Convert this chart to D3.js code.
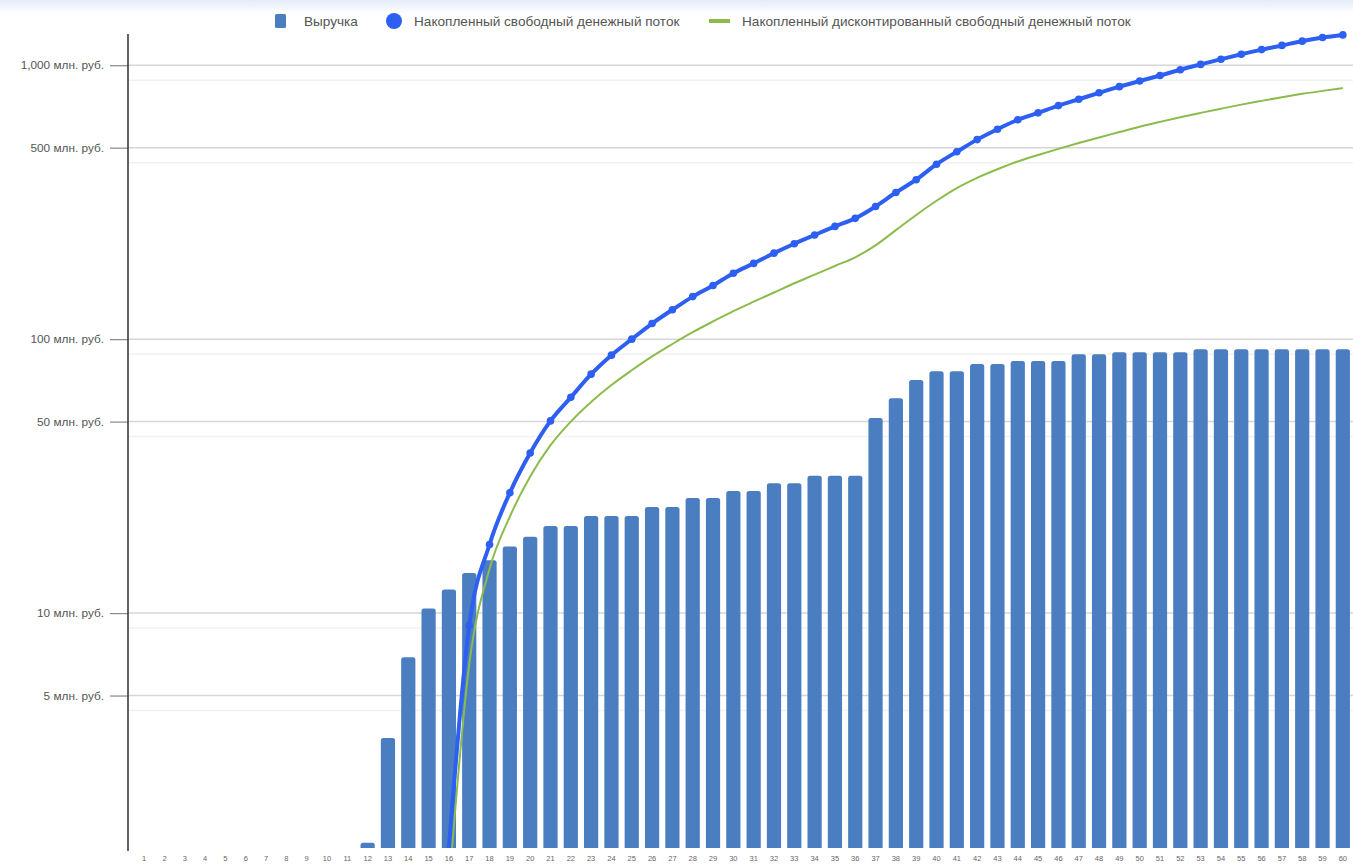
<!DOCTYPE html>
<html>
<head>
<meta charset="utf-8">
<script src="https://cdn.jsdelivr.net/npm/d3@7"></script>
<style>
  html, body { margin: 0; padding: 0; background: #fff; }
  svg { display: block; font-family: Arial, "Liberation Sans", sans-serif; }
</style>
</head>
<body>
<div id="chart"></div>
<script>
// Periods 1..60 on the x axis
const periods = [1, 2, 3, 4, 5, 6, 7, 8, 9, 10, 11, 12, 13, 14, 15, 16, 17, 18, 19, 20,
  21, 22, 23, 24, 25, 26, 27, 28, 29, 30, 31, 32, 33, 34, 35, 36, 37, 38, 39, 40,
  41, 42, 43, 44, 45, 46, 47, 48, 49, 50, 51, 52, 53, 54, 55, 56, 57, 58, 59, 60];

// Выручка, млн. руб. (null = nothing drawn)
const revenue = [null, null, null, null, null, null, null, null, null, null, null, 1.45,
  3.5, 6.9, 10.4, 12.2, 14.0, 15.6, 17.5, 19.0, 20.8, 20.8, 22.6, 22.6, 22.6, 24.4,
  24.4, 26.3, 26.3, 27.9, 27.9, 29.8, 29.8, 31.7, 31.7, 31.7, 51.5, 60.9, 70.9, 76.4,
  76.4, 81.2, 81.2, 83.3, 83.3, 83.3, 88.0, 88.0, 89.6, 89.6, 89.6, 89.6, 91.8, 91.8,
  91.8, 91.8, 91.8, 91.8, 91.8, 91.8];

// Накопленный свободный денежный поток (negative periods left out)
const cumFcf = [null, null, null, null, null, null, null, null, null, null, null, null,
  null, null, null, 1.39, 9.0, 17.8, 27.5, 38.4, 50.3, 61.3, 74.5, 87.4, 100, 114, 128,
  143, 157, 174, 189, 206, 223, 240, 258, 276, 305, 343, 382, 435, 483, 535, 584, 632,
  670, 712, 751, 793, 835, 876, 917, 963, 1007, 1051, 1096, 1140, 1181, 1224, 1262, 1290];

// Накопленный дисконтированный свободный денежный поток
const cumDcf = [null, null, null, null, null, null, null, null, null, null, null, null,
  null, null, null, 1.0, 6.5, 14.5, 22.5, 31.5, 41, 50, 59, 68, 77, 86.5, 96, 106, 116,
  126.5, 137, 148, 160, 172, 185, 199, 220, 250, 284, 320, 356, 388, 417, 445, 470, 495,
  520, 545, 570, 596, 621, 646, 670, 694, 718, 741, 764, 786, 806, 825];

const yTicks = [5, 10, 50, 100, 500, 1000];
const seriesNames = ['Выручка', 'Накопленный свободный денежный поток',
  'Накопленный дисконтированный свободный денежный поток'];

const svgWidth = 1353;
const svgHeight = 865;
const plot = { left: 128, right: 1353, top: 34, bottom: 848 };

const barColor = '#4a7ec0';
const fcfColor = '#2d5ff2';
const dcfColor = '#8cbb4c';

const svg = d3.select('#chart')
  .append('svg')
  .attr('width', svgWidth)
  .attr('height', svgHeight);

// faint tint along the top edge
const defs = svg.append('defs');
const grad = defs.append('linearGradient').attr('id', 'topTint')
  .attr('x1', 0).attr('y1', 0).attr('x2', 0).attr('y2', 1);
grad.append('stop').attr('offset', '0%').attr('stop-color', '#e3ecf9');
grad.append('stop').attr('offset', '100%').attr('stop-color', '#ffffff');
svg.append('rect').attr('x', 0).attr('y', 0).attr('width', svgWidth).attr('height', 14)
  .attr('fill', 'url(#topTint)');

defs.append('clipPath').attr('id', 'plotClip')
  .append('rect')
  .attr('x', plot.left + 1).attr('y', plot.top - 6)
  .attr('width', plot.right - plot.left).attr('height', plot.bottom - plot.top + 6);

const xScale = d3.scaleBand()
  .domain(periods)
  .range([plot.left + 6, plot.right])
  .paddingInner(0.3)
  .paddingOuter(0.15);

const yScale = d3.scaleLog()
  .domain([1.388, 1300])
  .range([plot.bottom, plot.top]);

const xc = i => xScale(periods[i]) + xScale.bandwidth() / 2;

// gridlines (with the soft echo seen below each line)
const grid = svg.append('g');
grid.selectAll('line.echo')
  .data(yTicks)
  .enter()
  .append('line')
  .attr('class', 'echo')
  .attr('x1', plot.left).attr('x2', plot.right)
  .attr('y1', d => yScale(d) + 15).attr('y2', d => yScale(d) + 15)
  .attr('stroke', '#f1f1f1')
  .attr('stroke-width', 1.5);
grid.selectAll('line.major')
  .data(yTicks)
  .enter()
  .append('line')
  .attr('class', 'major')
  .attr('x1', plot.left).attr('x2', plot.right)
  .attr('y1', d => yScale(d)).attr('y2', d => yScale(d))
  .attr('stroke', '#d6d6d6')
  .attr('stroke-width', 1.5);

// y axis
const yAxis = d3.axisLeft(yScale)
  .tickValues(yTicks)
  .tickSize(18)
  .tickPadding(6)
  .tickFormat(d => d3.format(',')(d) + ' млн. руб.');

const yAxisG = svg.append('g')
  .attr('transform', `translate(${plot.left},0)`)
  .call(yAxis);
yAxisG.select('.domain').remove();
yAxisG.selectAll('.tick line').attr('stroke', '#888').attr('stroke-width', 1.2);
yAxisG.selectAll('.tick text')
  .attr('fill', '#555')
  .style('font-size', '11.8px');

svg.append('line')
  .attr('x1', plot.left).attr('x2', plot.left)
  .attr('y1', plot.top).attr('y2', plot.bottom + 3)
  .attr('stroke', '#3a3a3a')
  .attr('stroke-width', 1.6);

// x axis labels
const xAxis = d3.axisBottom(xScale).tickSize(0).tickPadding(8);
const xAxisG = svg.append('g')
  .attr('transform', `translate(0,${plot.bottom})`)
  .call(xAxis);
xAxisG.select('.domain').remove();
xAxisG.selectAll('.tick text')
  .attr('fill', '#666')
  .style('font-size', '7.5px');

// bars
const bars = svg.append('g').attr('clip-path', 'url(#plotClip)');
bars.selectAll('rect')
  .data(revenue.map((v, i) => ({ i, v })).filter(d => d.v != null))
  .enter()
  .append('rect')
  .attr('x', d => xScale(periods[d.i]))
  .attr('y', d => yScale(d.v))
  .attr('width', xScale.bandwidth())
  .attr('height', d => plot.bottom + 3 - yScale(d.v))
  .attr('rx', 2.5)
  .attr('fill', barColor);

// lines
const lineGen = d3.line()
  .defined(d => d.v != null)
  .x(d => xc(d.i))
  .y(d => yScale(d.v))
  .curve(d3.curveMonotoneX);

const lines = svg.append('g').attr('clip-path', 'url(#plotClip)');
const fcfData = cumFcf.map((v, i) => ({ i, v }));
const dcfData = cumDcf.map((v, i) => ({ i, v }));

lines.append('path')
  .datum(fcfData)
  .attr('d', lineGen)
  .attr('fill', 'none')
  .attr('stroke', fcfColor)
  .attr('stroke-width', 4)
  .attr('stroke-linejoin', 'round');

lines.selectAll('circle')
  .data(fcfData.filter(d => d.v != null && d.i > 15))
  .enter()
  .append('circle')
  .attr('cx', d => xc(d.i))
  .attr('cy', d => yScale(d.v))
  .attr('r', 3.8)
  .attr('fill', fcfColor);

lines.append('path')
  .datum(dcfData)
  .attr('d', lineGen)
  .attr('fill', 'none')
  .attr('stroke', dcfColor)
  .attr('stroke-width', 2);

// legend
const legend = svg.append('g').attr('transform', 'translate(0,21)');
const legendText = '#555';
const legendSize = '13.6px';

legend.append('rect')
  .attr('x', 275).attr('y', -7).attr('width', 11).attr('height', 14)
  .attr('rx', 1.5)
  .attr('fill', barColor);
legend.append('text')
  .attr('x', 304).attr('y', 5)
  .attr('fill', legendText).style('font-size', legendSize)
  .text(seriesNames[0]);

legend.append('circle')
  .attr('cx', 394).attr('cy', 0).attr('r', 8)
  .attr('fill', fcfColor);
legend.append('text')
  .attr('x', 414).attr('y', 5)
  .attr('fill', legendText).style('font-size', legendSize)
  .text(seriesNames[1]);

legend.append('line')
  .attr('x1', 709).attr('x2', 730).attr('y1', 0).attr('y2', 0)
  .attr('stroke', dcfColor).attr('stroke-width', 4);
legend.append('text')
  .attr('x', 742).attr('y', 5)
  .attr('fill', legendText).style('font-size', legendSize)
  .text(seriesNames[2]);
</script>
</body>
</html>
